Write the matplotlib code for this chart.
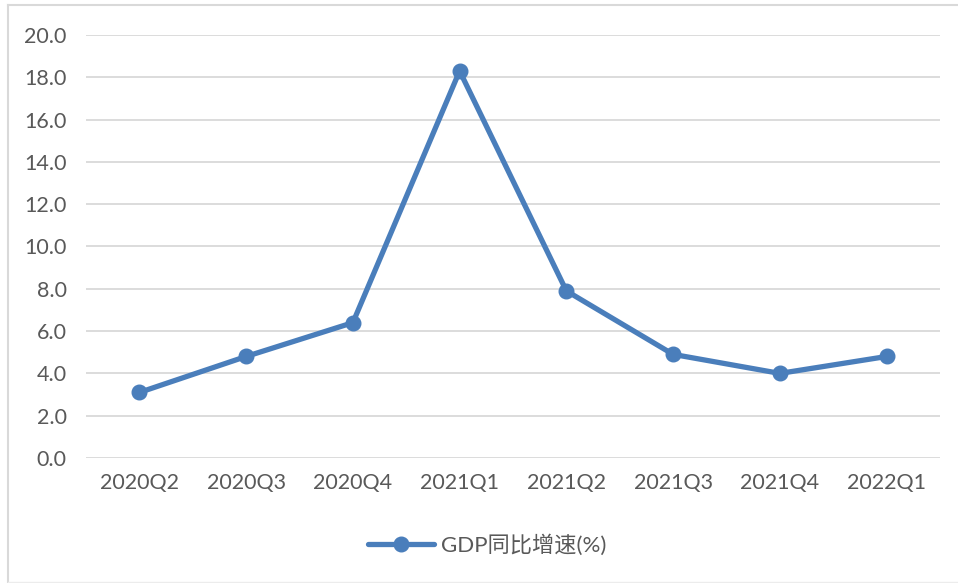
import matplotlib
matplotlib.use("Agg")
import matplotlib.pyplot as plt
from matplotlib.lines import Line2D

# GDP growth by quarter
quarters = ["2020Q2", "2020Q3", "2020Q4", "2021Q1", "2021Q2", "2021Q3", "2021Q4", "2022Q1"]
gdp_growth = [3.1, 4.8, 6.4, 18.3, 7.9, 4.9, 4.0, 4.8]
yticks = [0, 2, 4, 6, 8, 10, 12, 14, 16, 18, 20]

plt.rcParams["font.family"] = ["Lato", "Noto Sans CJK SC", "DejaVu Sans"]

W, H = 958, 583
fig = plt.figure(figsize=(W / 100, H / 100), dpi=100)
ax = fig.add_axes([86 / W, 1 - 458 / H, (940 - 86) / W, (458 - 35) / H])

x = range(len(quarters))
ax.plot(x, gdp_growth, color="#4a7ebb", linewidth=3.8, marker="o", markersize=10.5,
        label="GDP同比增速(%)", solid_capstyle="round", zorder=3)

ax.set_xlim(-0.5, len(quarters) - 0.5)
ax.set_ylim(0, 20)
ax.set_yticks(yticks)
ax.set_yticklabels([f"{v:.1f}" for v in yticks])
ax.set_xticks(list(x))
ax.set_xticklabels(quarters)
ax.grid(axis="y", color="#d9d9d9", linewidth=1.3)
ax.set_axisbelow(True)
for s in ax.spines.values():
    s.set_visible(False)
ax.tick_params(length=0, labelsize=15.5, colors="#595959")
ax.tick_params(axis="y", pad=14)
ax.tick_params(axis="x", pad=11)

leg = fig.legend(loc="center", bbox_to_anchor=(487 / W, 1 - 545 / H), frameon=False,
                 fontsize=16, handlelength=3.0, handletextpad=0.3)
for t in leg.get_texts():
    t.set_color("#595959")

# outer chart border
fig.add_artist(Line2D([8 / W, 8 / W], [1 - 5 / H, 1 - 582 / H], color="#d9d9d9", linewidth=1.5))
fig.add_artist(Line2D([8 / W, 1], [1 - 5 / H, 1 - 5 / H], color="#d9d9d9", linewidth=1.5))
fig.add_artist(Line2D([8 / W, 1], [1 - 582 / H, 1 - 582 / H], color="#ececec", linewidth=1))

fig.savefig("out.png", dpi=100)
plt.close(fig)
